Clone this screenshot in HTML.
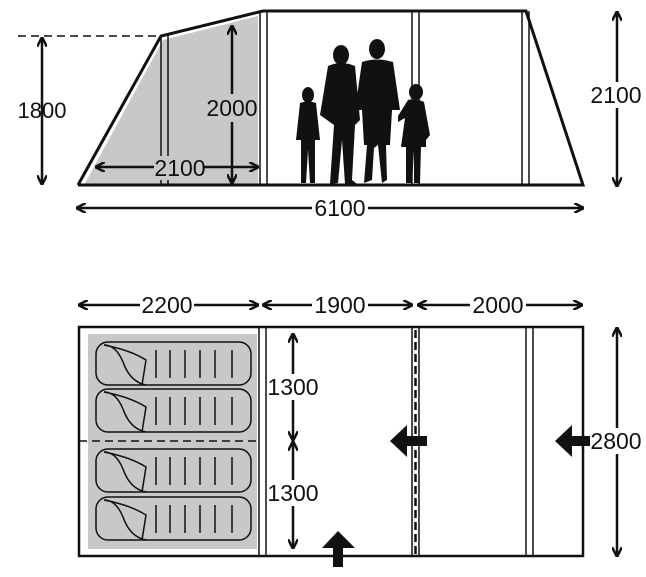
<!DOCTYPE html>
<html><head><style>body{margin:0;background:#fff}svg{display:block}text{font-family:"Liberation Sans Narrow","Liberation Sans",sans-serif;font-size:23px;fill:#111;text-anchor:middle;dominant-baseline:central}</style></head><body>
<svg width="646" height="577" viewBox="0 0 646 577">
<defs>
<marker id="a" viewBox="0 0 10 10" refX="9" refY="5" markerWidth="4" markerHeight="4" orient="auto-start-reverse"><path d="M0,0 L10,5 L0,10" fill="none" stroke="#111" stroke-width="2.5"/></marker>
</defs>
<g stroke="#111" fill="none">
<!-- top gray -->
<polygon points="84,185 163,40 258,16 258,185" fill="#c8c8c8" stroke="none"/>
<polyline points="78,185 161,36 263,11 526,11 583,185 78,185" stroke-width="3"/>
<line x1="161" y1="36" x2="161" y2="185" stroke-width="1.5"/><line x1="168" y1="35" x2="168" y2="185" stroke-width="1.5"/>
<line x1="260" y1="12" x2="260" y2="185" stroke-width="1.5"/><line x1="267" y1="11" x2="267" y2="185" stroke-width="1.5"/>
<line x1="412" y1="11" x2="412" y2="185" stroke-width="1.5"/><line x1="419" y1="11" x2="419" y2="185" stroke-width="1.5"/>
<line x1="522" y1="11" x2="522" y2="185" stroke-width="1.5"/><line x1="529" y1="11" x2="529" y2="185" stroke-width="1.5"/>
<line x1="18" y1="36" x2="160" y2="36" stroke-width="1.5" stroke-dasharray="8,5"/>
<g stroke-width="2.5" marker-start="url(#a)" marker-end="url(#a)">
<line x1="42" y1="38" x2="42" y2="184"/>
<line x1="232" y1="26" x2="232" y2="183"/>
<line x1="96" y1="167" x2="258" y2="167"/>
<line x1="77" y1="208" x2="583" y2="208"/>
<line x1="617" y1="12" x2="617" y2="186"/>
<line x1="79" y1="305" x2="258" y2="305"/>
<line x1="263" y1="305" x2="412" y2="305"/>
<line x1="418" y1="305" x2="582" y2="305"/>
<line x1="293" y1="334" x2="293" y2="440"/>
<line x1="293" y1="442" x2="293" y2="548"/>
<line x1="617" y1="328" x2="617" y2="556"/>
</g>
<!-- bottom -->
<rect x="88" y="334" width="169" height="215" fill="#c8c8c8" stroke="none"/>
<rect x="79" y="327" width="504" height="229" stroke-width="2.5"/>
<line x1="259" y1="327" x2="259" y2="556" stroke-width="1.5"/><line x1="266" y1="327" x2="266" y2="556" stroke-width="1.5"/>
<line x1="412" y1="327" x2="412" y2="556" stroke-width="1.5"/><line x1="419" y1="327" x2="419" y2="556" stroke-width="1.5"/>
<line x1="415.5" y1="330" x2="415.5" y2="556" stroke-width="2.5" stroke-dasharray="8,4"/>
<line x1="526" y1="327" x2="526" y2="556" stroke-width="1.5"/><line x1="533" y1="327" x2="533" y2="556" stroke-width="1.5"/>
<line x1="79" y1="441" x2="260" y2="441" stroke-width="1.5" stroke-dasharray="8,5"/>
<g stroke-width="1.5">
<g id="bag"><rect x="96" y="342" width="155" height="43" rx="12"/><path d="M104,345 Q116,345 123,362 Q130,382 146,385 M104,345 Q130,350 146,360 L142,385"/><path d="M156,350V378M170,350V378M185,350V378M200,350V378M215,350V378M232,350V378"/></g>
<use href="#bag" y="47"/><use href="#bag" y="107"/><use href="#bag" y="155"/>
</g>
</g>
<!-- block arrows -->
<g fill="#111">
<polygon points="390,441 407,425 407,436 427,436 427,446 407,446 407,457"/>
<polygon points="555,441 572,425 572,436 590,436 590,446 572,446 572,457"/>
<polygon points="338,531 322,548 333,548 333,567 343,567 343,548 355,548"/>
<!-- silhouettes -->
<g>
<ellipse cx="308" cy="95" rx="6" ry="8"/><path d="M300,103 Q308,100 316,103 L320,140 L315,140 L315,183 L310,183 L308,150 L306,183 L301,183 L301,140 L296,140Z"/>
<ellipse cx="341" cy="55" rx="8" ry="10"/><path d="M328,66 Q341,60 355,66 L360,120 L355,125 L352,180 L357,184 L345,184 L342,140 L338,183 L330,184 L334,125 L320,115Z"/>
<ellipse cx="377" cy="49" rx="8" ry="10"/><path d="M362,62 Q377,57 393,62 L400,110 L392,110 L390,145 L386,145 L387,180 L382,183 L378,145 L374,148 L372,180 L364,183 L367,145 L364,145 L362,110 L355,110Z"/>
<ellipse cx="416" cy="92" rx="7" ry="8"/><path d="M408,100 Q416,98 424,102 L430,135 L426,140 L426,147 L421,147 L420,183 L414,183 L414,150 L412,183 L406,183 L406,147 L401,147 L405,118 L398,122 L398,116Z"/>
</g>
</g>
<text x="42" y="110" style="font-size:22px"><tspan>1800</tspan></text>
<rect x="206" y="94" width="52" height="28" fill="#c8c8c8"/>
<text x="232" y="108">2000</text>
<rect x="154" y="156" width="50" height="24" fill="#c8c8c8"/>
<text x="180" y="168">2100</text>
<rect x="312" y="196" width="56" height="24" fill="#fff"/>
<text x="340" y="208">6100</text>
<rect x="592" y="82" width="50" height="26" fill="#fff"/>
<text x="616" y="95">2100</text>
<rect x="140" y="293" width="54" height="24" fill="#fff"/>
<text x="167" y="305">2200</text>
<rect x="312" y="293" width="56" height="24" fill="#fff"/>
<text x="340" y="305">1900</text>
<rect x="470" y="293" width="56" height="24" fill="#fff"/>
<text x="498" y="305">2000</text>
<rect x="268" y="374" width="50" height="26" fill="#fff"/>
<text x="293" y="387">1300</text>
<rect x="268" y="480" width="50" height="26" fill="#fff"/>
<text x="293" y="493">1300</text>
<rect x="592" y="428" width="50" height="26" fill="#fff"/>
<text x="616" y="441">2800</text>
</svg>
</body></html>
